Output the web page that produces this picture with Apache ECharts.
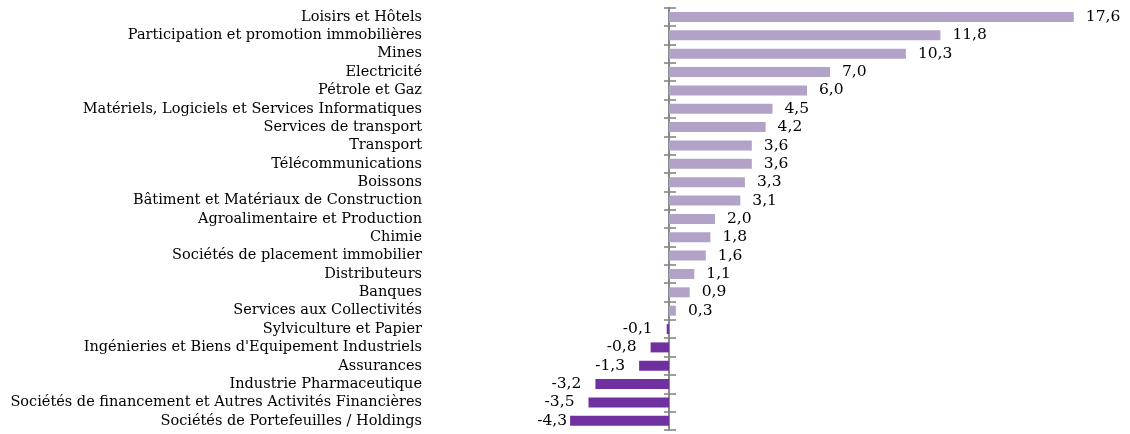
<!DOCTYPE html>
<html><head><meta charset="utf-8">
<script src="https://cdn.jsdelivr.net/npm/echarts@6/dist/echarts.min.js"></script>
<style>html,body{margin:0;padding:0;background:#fff}#c{width:1130px;height:434px}</style>
</head><body><div id="c"></div>
<script>
const categories = [
  "Loisirs et Hôtels",
  "Participation et promotion immobilières",
  "Mines",
  "Electricité",
  "Pétrole et Gaz",
  "Matériels, Logiciels et Services Informatiques",
  "Services de transport",
  "Transport",
  "Télécommunications",
  "Boissons",
  "Bâtiment et Matériaux de Construction",
  "Agroalimentaire et Production",
  "Chimie",
  "Sociétés de placement immobilier",
  "Distributeurs",
  "Banques",
  "Services aux Collectivités",
  "Sylviculture et Papier",
  "Ingénieries et Biens d'Equipement Industriels",
  "Assurances",
  "Industrie Pharmaceutique",
  "Sociétés de financement et Autres Activités Financières",
  "Sociétés de Portefeuilles / Holdings"
];
const values = [17.6, 11.8, 10.3, 7.0, 6.0, 4.5, 4.2, 3.6, 3.6, 3.3, 3.1, 2.0, 1.8, 1.6, 1.1, 0.9, 0.3, -0.1, -0.8, -1.3, -3.2, -3.5, -4.3];

const FONT = "'DejaVu Serif', 'Liberation Serif', serif";
const POS_COLOR = '#B3A2C7';
const NEG_COLOR = '#7030A0';
const AXIS_COLOR = '#868686';
const minValue = Math.min(...values);

const seriesData = values.map(v => ({
  value: v,
  itemStyle: { color: v >= 0 ? POS_COLOR : NEG_COLOR },
  label: {
    position: v >= 0 ? 'right' : 'left',
    distance: v >= 0 ? 12 : (v === minValue ? 3 : 14)
  }
}));

const chart = echarts.init(document.getElementById('c'), null, { renderer: 'canvas' });
chart.setOption({
  animation: false,
  backgroundColor: '#fff',
  grid: { left: 439, right: 24, top: 7.8, bottom: 4, containLabel: false },
  xAxis: {
    type: 'value', min: -10, max: 19,
    show: false, splitLine: { show: false }
  },
  yAxis: [
    {
      type: 'category', data: categories, inverse: true,
      position: 'left',
      axisLine: { show: false, onZero: false },
      axisTick: { show: false },
      axisLabel: { interval: 0, margin: 17, fontFamily: FONT, fontSize: 14.5, color: '#000' }
    },
    {
      type: 'category', data: categories, inverse: true,
      position: 'left',
      axisLine: { show: true, onZero: true, onZeroAxisIndex: 0, lineStyle: { color: AXIS_COLOR, width: 1.6 } },
      axisTick: { show: true, interval: 0, inside: false, length: 5, lineStyle: { color: AXIS_COLOR, width: 1.6 } },
      axisLabel: { show: false }
    },
    {
      type: 'category', data: categories, inverse: true,
      position: 'left',
      axisLine: { show: true, onZero: true, onZeroAxisIndex: 0, lineStyle: { color: AXIS_COLOR, width: 1.6 } },
      axisTick: { show: true, interval: 0, inside: true, length: 7, lineStyle: { color: AXIS_COLOR, width: 1.6 } },
      axisLabel: { show: false }
    }
  ],
  series: [{
    type: 'bar',
    yAxisIndex: 0,
    data: seriesData,
    barWidth: 10,
    label: {
      show: true,
      fontFamily: FONT, fontSize: 15.5, color: '#000',
      formatter: p => p.value.toFixed(1).replace('.', ',')
    }
  }]
});
</script>
</body></html>
